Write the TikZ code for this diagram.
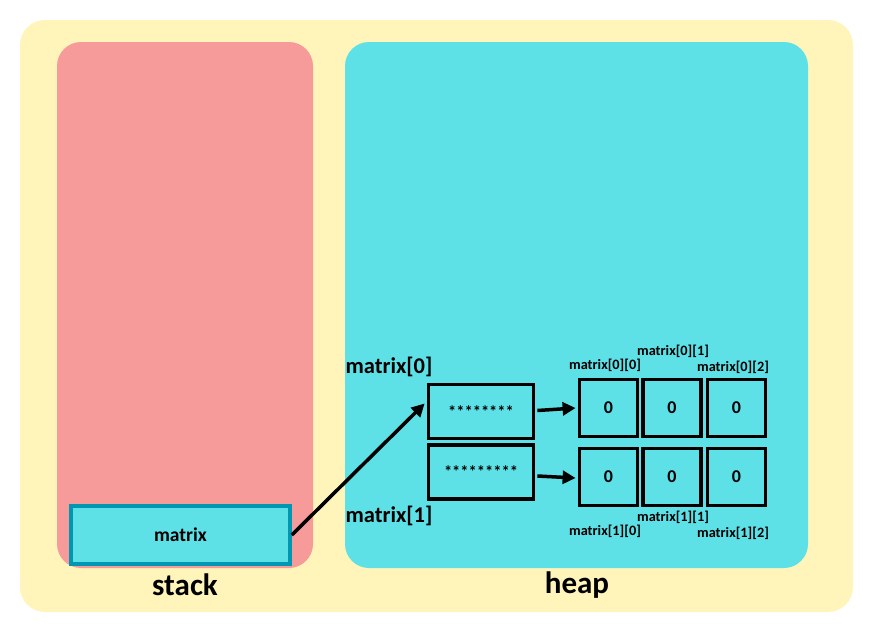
\documentclass[tikz,border=0pt]{standalone}
\usepackage{fontspec}
\setmainfont{Carlito}
\usetikzlibrary{arrows.meta,calc}
\definecolor{bgyellow}{RGB}{255,245,187}
\definecolor{stackred}{RGB}{246,154,154}
\definecolor{heapcyan}{RGB}{93,224,230}
\definecolor{boxteal}{RGB}{0,151,178}
\tikzset{
  ptrbox/.style={draw=black,line width=3.8pt,fill=heapcyan,minimum width=105pt,minimum height=54pt,inner sep=0pt,font=\bfseries\fontsize{16.5}{16.5}\selectfont},
  cellbox/.style={draw=black,line width=3.8pt,fill=heapcyan,minimum width=58pt,minimum height=57pt,inner sep=0pt,font=\bfseries\fontsize{18}{18}\selectfont},
  idxlabel/.style={font=\bfseries\fontsize{14.3}{14.3}\selectfont,inner sep=0pt},
  rowlabel/.style={font=\bfseries\fontsize{22.5}{22.5}\selectfont,inner sep=0pt},
  arealabel/.style={font=\bfseries\fontsize{31}{31}\selectfont,inner sep=0pt},
  ptrarrow/.style={-{Triangle[length=13pt,width=13pt]},line width=3.5pt}
}
\begin{document}
\begin{tikzpicture}[x=1pt,y=-1pt]
    \useasboundingbox (0,0) rectangle (869,624);
    % background areas
    \fill[white] (0,0) rectangle (869,624);
    \fill[bgyellow,rounded corners=25pt] (20,20) rectangle (853,612);
    \fill[stackred,rounded corners=24pt] (57,42) rectangle (313,568);
    \fill[heapcyan,rounded corners=24pt] (345,42) rectangle (808,568);
    \node[arealabel] (stacklbl) at (185,585) {stack};
    \node[arealabel] (heaplbl) at (577,585) {heap};
    % variable on the stack
    \node[draw=boxteal,line width=3.5pt,fill=heapcyan,minimum width=219pt,minimum height=58pt,inner sep=0pt,font=\bfseries\fontsize{19.5}{19.5}\selectfont] (var) at (180.5,535) {matrix};
    % row pointers
    \node[ptrbox] (row0) at (481,411.5) {********};
    \node[ptrbox] (row1) at (481,472) {*********};
    \node[rowlabel] (row0lbl) at (389,367) {matrix[0]};
    \node[rowlabel] (row1lbl) at (389,516) {matrix[1]};
    % cells
    \node[cellbox] (c00) at (608.5,408) {0};
    \node[cellbox] (c01) at (672,408) {0};
    \node[cellbox] (c02) at (736.5,408) {0};
    \node[cellbox] (c10) at (608.5,477) {0};
    \node[cellbox] (c11) at (672,477) {0};
    \node[cellbox] (c12) at (736.5,477) {0};
    % index labels
    \node[idxlabel] at (605,365) {matrix[0][0]};
    \node[idxlabel] at (673,351) {matrix[0][1]};
    \node[idxlabel] at (733,367) {matrix[0][2]};
    \node[idxlabel] at (605,531) {matrix[1][0]};
    \node[idxlabel] at (673,517) {matrix[1][1]};
    \node[idxlabel] at (733,533) {matrix[1][2]};
    % pointers
    \draw[ptrarrow] (var.east) -- ($(row0.west)+(-2,-8)$);
    \draw[ptrarrow] ($(row0.east)+(2,-1)$) -- ($(c00.west)+(-2,0)$);
    \draw[ptrarrow] ($(row1.east)+(2,4)$) -- ($(c10.west)+(-2,1)$);
  \end{tikzpicture}
\end{document}
